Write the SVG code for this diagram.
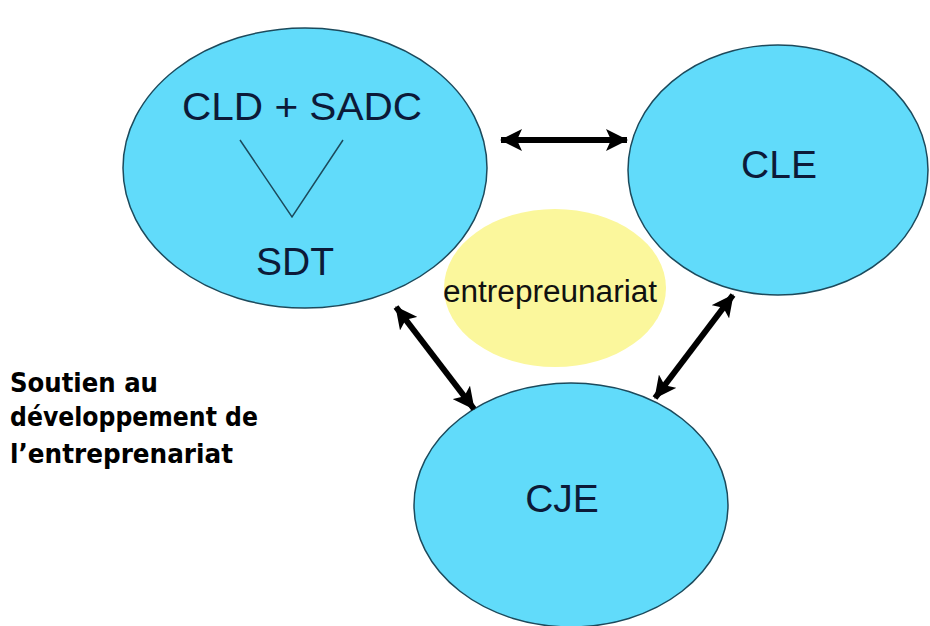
<svg xmlns="http://www.w3.org/2000/svg" width="930" height="626" viewBox="0 0 930 626">
<style>
.node{fill:#61dbfa;stroke:#1c4a5c;stroke-width:1.5}
.lbl{font-family:"Liberation Sans",Arial,sans-serif;fill:#0c1a38;text-anchor:middle;font-size:39px}
.conn{stroke:#000;stroke-width:6;fill:none;marker-start:url(#ah);marker-end:url(#ah)}
.side{font-family:"DejaVu Sans",sans-serif;font-weight:bold;font-size:26px;fill:#000}
</style>
<defs>
<marker id="ah" markerUnits="userSpaceOnUse" viewBox="0 0 22 22" refX="21" refY="11" markerWidth="22" markerHeight="22" orient="auto-start-reverse">
<path d="M0,0 L22,11 L0,22 L5,11 Z" fill="#000"/>
</marker>
</defs>
<rect width="930" height="626" fill="#fff"/>
<g id="entrepreunariat">
<ellipse cx="555" cy="288" rx="111" ry="79" fill="#fbf79c"/>
<text class="lbl" x="550" y="302" style="font-size:31px;fill:#111" textLength="214" lengthAdjust="spacingAndGlyphs">entrepreunariat</text>
</g>
<g id="cld">
<ellipse class="node" cx="305" cy="168" rx="182" ry="140"/>
<text class="lbl" x="302" y="120" textLength="240" lengthAdjust="spacingAndGlyphs">CLD + SADC</text>
<polyline points="240,140 292,217 343,140" fill="none" stroke="#1c4a5c" stroke-width="1.5"/>
<text class="lbl" x="295" y="275">SDT</text>
</g>
<g id="cle">
<ellipse class="node" cx="778" cy="170" rx="150" ry="125"/>
<text class="lbl" x="779" y="178">CLE</text>
</g>
<g id="cje">
<ellipse class="node" cx="571" cy="505" rx="157" ry="122"/>
<text class="lbl" x="562" y="512">CJE</text>
</g>
<g id="connectors">
<line class="conn" x1="501" y1="140" x2="627" y2="140"/>
<line class="conn" x1="396" y1="307" x2="474" y2="409"/>
<line class="conn" x1="733" y1="295" x2="655" y2="398"/>
</g>
<g id="caption">
<text class="side" x="10" y="392" textLength="148" lengthAdjust="spacingAndGlyphs">Soutien au</text>
<text class="side" x="10" y="426" textLength="248" lengthAdjust="spacingAndGlyphs">développement de</text>
<text class="side" x="10" y="463" textLength="223" lengthAdjust="spacingAndGlyphs">l’entreprenariat</text>
</g>
</svg>
